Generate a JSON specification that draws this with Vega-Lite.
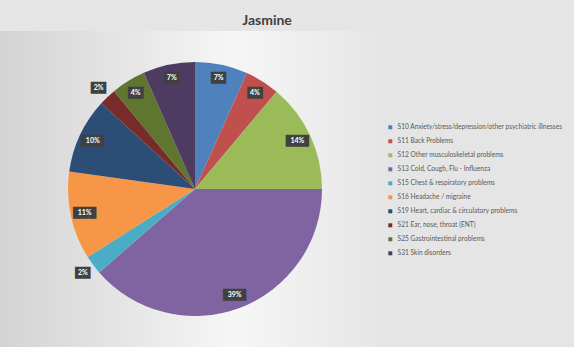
{
  "$schema": "https://vega.github.io/schema/vega-lite/v6.json",
  "autosize": {"type": "none"},
  "padding": {"left": 0, "top": 31, "right": 184, "bottom": 0},
  "width": 390,
  "height": 316,
  "background": "#e5e5e5",
  "view": {"stroke": null, "fill": {"gradient": "linear", "x1": 0, "y1": 0, "x2": 1, "y2": 0, "stops": [{"offset": 0, "color": "#d3d3d3"}, {"offset": 0.6, "color": "#f6f6f6"}, {"offset": 1, "color": "#e5e5e5"}]}},
  "title": {"text": "Jasmine", "font": "Lato", "fontSize": 14, "fontWeight": "bold", "color": "#404040", "anchor": "middle", "dx": 72, "offset": 3},
  "data": {"values": [
    {"category": "S10 Anxiety/stress/depression/other psychiatric illnesses", "pct": 0.067},
    {"category": "S11 Back Problems", "pct": 0.044},
    {"category": "S12 Other musculoskeletal problems", "pct": 0.139},
    {"category": "S13 Cold, Cough, Flu - Influenza", "pct": 0.386},
    {"category": "S15 Chest & respiratory problems", "pct": 0.024},
    {"category": "S16 Headache / migraine", "pct": 0.112},
    {"category": "S19 Heart, cardiac & circulatory problems", "pct": 0.096},
    {"category": "S21 Ear, nose, throat (ENT)", "pct": 0.022},
    {"category": "S25 Gastrointestinal problems", "pct": 0.044},
    {"category": "S31 Skin disorders", "pct": 0.066}
  ]},
  "encoding": {
    "theta": {"field": "pct", "type": "quantitative", "stack": true},
    "order": {"field": "category", "type": "nominal"}
  },
  "layer": [
    {
      "mark": {"type": "arc", "outerRadius": 127},
      "encoding": {
        "color": {
          "field": "category", "type": "nominal",
          "scale": {"range": ["#4F81BD", "#C0504D", "#9BBB59", "#8064A2", "#4BACC6", "#F79646", "#2C4D75", "#772C2A", "#5F7530", "#4D3B62"]},
          "legend": {
            "title": null, "orient": "none", "legendX": 387, "legendY": 93,
            "labelFont": "Lato", "labelFontSize": 6.6, "labelColor": "#595959", "labelLimit": 300,
            "symbolType": "square", "symbolSize": 16, "symbolStrokeWidth": 0, "rowPadding": 7, "padding": 0
          }
        }
      }
    },
    {
      "mark": {"type": "text", "font": "DejaVu Sans", "fontSize": 10, "color": "#404040"},
      "encoding": {
        "radius": {"value": {"expr": "datum.pct < 0.03 ? 140 : 113"}},
        "text": {"condition": {"test": "datum.pct >= 0.095", "value": "███"}, "value": "██"}
      }
    },
    {
      "mark": {"type": "text", "font": "Lato", "fontSize": 7, "fontWeight": "bold", "color": "#ffffff"},
      "encoding": {
        "radius": {"value": {"expr": "datum.pct < 0.03 ? 140 : 113"}},
        "text": {"field": "pct", "type": "quantitative", "format": ".0%"}
      }
    }
  ]
}
